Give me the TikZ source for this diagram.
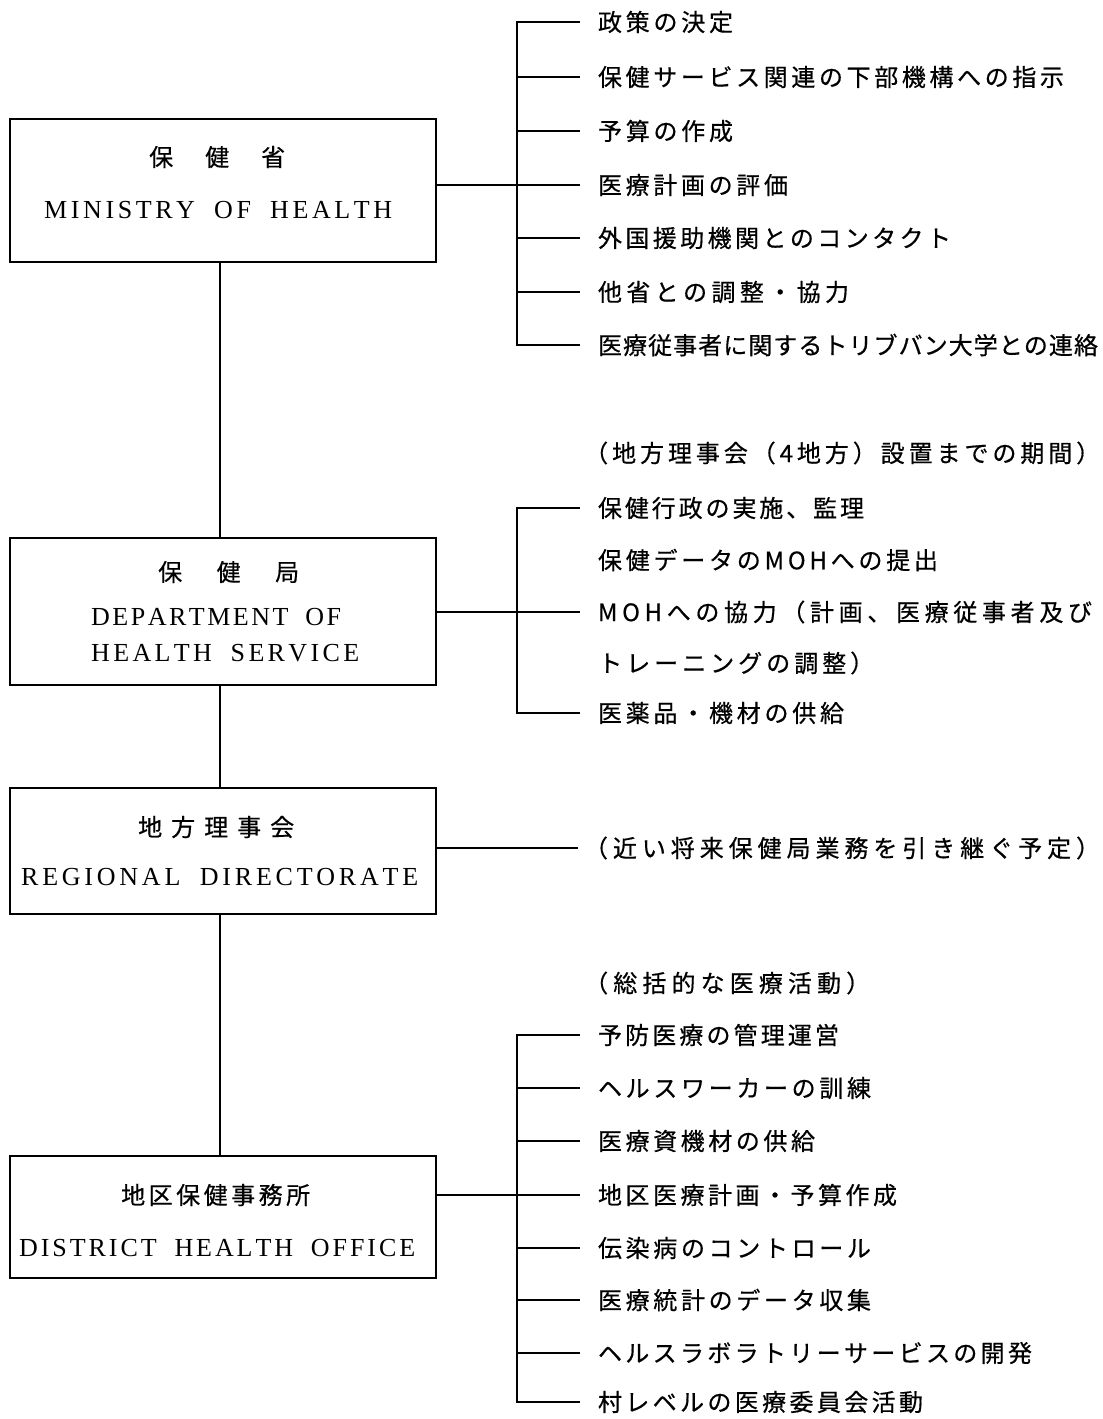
\documentclass[tikz,border=0pt]{standalone}
\usepackage{fontspec}
\setmainfont{Liberation Serif}
\newfontfamily\jpfont[FakeBold=0.5]{Noto Sans CJK JP}
\makeatletter
\newcommand\spreadto[2]{\makebox[#1][s]{\spr@ad#2\@nil}}
\def\spr@ad#1#2\@nil{#1\ifx\relax#2\relax\else\hfil\spr@ad#2\@nil\fi}
\makeatother
\newcommand\wsp{\hspace{12pt}}
\tikzset{
 orgbox/.style={draw, line width=2pt, minimum width=426pt, inner sep=0pt},
 jptext/.style={font=\jpfont\fontsize{24pt}{28pt}\selectfont, inner sep=0pt, anchor=west},
 entext/.style={font=\fontsize{26pt}{30pt}\selectfont, inner sep=0pt, anchor=west},
 itemtext/.style={jptext, outer xsep=18pt},
 pitemtext/.style={jptext, outer xsep=6pt},
 trunkline/.style={line width=1.8pt},
 bracketline/.style={line width=1.5pt},
 branchline/.style={line width=1.2pt},
}
\begin{document}
\begin{tikzpicture}[x=1pt,y=-1pt]
\useasboundingbox[fill=white] (0,0) rectangle (1103,1419);

% boxes
\node[orgbox, minimum height=143pt] (b1) at (223,190.5) {};
\node[orgbox, minimum height=147pt] (b2) at (223,611.5) {};
\node[orgbox, minimum height=126pt] (b3) at (223,851) {};
\node[orgbox, minimum height=122pt] (b4) at (223,1217) {};

% box texts
\node[jptext] (b1jp) at (149,157) {\spreadto{136pt}{保健省}};
\node[entext] (b1en) at (44,210) {\spreadto{348pt}{MINISTRY\wsp OF\wsp HEALTH}};
\node[jptext] (b2jp) at (158,572) {\spreadto{141pt}{保健局}};
\node[entext] (b2en1) at (91,617) {\spreadto{250pt}{DEPARTMENT\wsp OF}};
\node[entext] (b2en2) at (91,653) {\spreadto{268pt}{HEALTH\wsp SERVICE}};
\node[jptext] (b3jp) at (138,827) {\spreadto{156pt}{地方理事会}};
\node[entext] (b3en) at (21,877) {\spreadto{397pt}{REGIONAL\wsp DIRECTORATE}};
\node[jptext] (b4jp) at (121,1195) {\spreadto{189pt}{地区保健事務所}};
\node[entext] (b4en) at (19,1248) {\spreadto{396pt}{DISTRICT\wsp HEALTH\wsp OFFICE}};

% trunk
\draw[trunkline] ([xshift=-3pt]b1.south) -- ([xshift=-3pt]b2.north);
\draw[trunkline] ([xshift=-3pt]b2.south) -- ([xshift=-3pt]b3.north);
\draw[trunkline] ([xshift=-3pt]b3.south) -- ([xshift=-3pt]b4.north);

\coordinate (k) at (517,0);

% group 1
\node[itemtext] (g1a) at (580,22)  {\spreadto{135pt}{政策の決定}};
\node[itemtext] (g1b) at (580,77)  {\spreadto{466pt}{保健サービス関連の下部機構への指示}};
\node[itemtext] (g1c) at (580,131) {\spreadto{135pt}{予算の作成}};
\node[itemtext] (g1d) at (580,185) {\spreadto{190pt}{医療計画の評価}};
\node[itemtext] (g1e) at (580,238) {\spreadto{353pt}{外国援助機関とのコンタクト}};
\node[itemtext] (g1f) at (580,292) {\spreadto{251pt}{他省との調整・協力}};
\node[itemtext] (g1g) at (580,345) {\spreadto{500pt}{医療従事者に関するトリブバン大学との連絡}};
\draw[bracketline] (g1a.west) -- (k |- g1a.west) -- (k |- g1g.west) -- (g1g.west);
\foreach \n in {g1b,g1c,g1e,g1f} \draw[branchline] (k |- \n.west) -- (\n.west);
\draw[branchline] (b1.east |- g1d.west) -- (g1d.west);

% group 2
\node[jptext] (g2t) at (584,453) {\spreadto{516pt}{（地方理事会（4地方）設置までの期間）}};
\node[itemtext] (g2a) at (580,508) {\spreadto{266pt}{保健行政の実施、監理}};
\node[itemtext] (g2b) at (580,560) {\spreadto{340pt}{保健データのMOHへの提出}};
\node[itemtext] (g2c) at (580,612) {\spreadto{494pt}{MOHへの協力（計画、医療従事者及び}};
\node[jptext]   (g2d) at (598,663) {\spreadto{276pt}{トレーニングの調整）}};
\node[itemtext] (g2e) at (580,713) {\spreadto{246pt}{医薬品・機材の供給}};
\draw[bracketline] (g2a.west) -- (k |- g2a.west) -- (k |- g2e.west) -- (g2e.west);
\draw[branchline] (b2.east |- g2c.west) -- (g2c.west);

% group 3
\node[pitemtext] (g3) at (578,848) {\spreadto{516pt}{（近い将来保健局業務を引き継ぐ予定）}};
\draw[branchline] (b3.east |- g3.west) -- (g3.west);

% group 4
\node[jptext] (g4t) at (584,983) {\spreadto{286pt}{（総括的な医療活動）}};
\node[itemtext] (g4a) at (580,1035) {\spreadto{241pt}{予防医療の管理運営}};
\node[itemtext] (g4b) at (580,1088) {\spreadto{273pt}{ヘルスワーカーの訓練}};
\node[itemtext] (g4c) at (580,1141) {\spreadto{217pt}{医療資機材の供給}};
\node[itemtext] (g4d) at (580,1195) {\spreadto{299pt}{地区医療計画・予算作成}};
\node[itemtext] (g4e) at (580,1248) {\spreadto{273pt}{伝染病のコントロール}};
\node[itemtext] (g4f) at (580,1300) {\spreadto{273pt}{医療統計のデータ収集}};
\node[itemtext] (g4g) at (580,1353) {\spreadto{434pt}{ヘルスラボラトリーサービスの開発}};
\node[itemtext] (g4h) at (580,1402) {\spreadto{325pt}{村レベルの医療委員会活動}};
\draw[bracketline] (g4a.west) -- (k |- g4a.west) -- (k |- g4h.west) -- (g4h.west);
\foreach \n in {g4b,g4c,g4e,g4f,g4g} \draw[branchline] (k |- \n.west) -- (\n.west);
\draw[branchline] (b4.east |- g4d.west) -- (g4d.west);
\end{tikzpicture}
\end{document}
